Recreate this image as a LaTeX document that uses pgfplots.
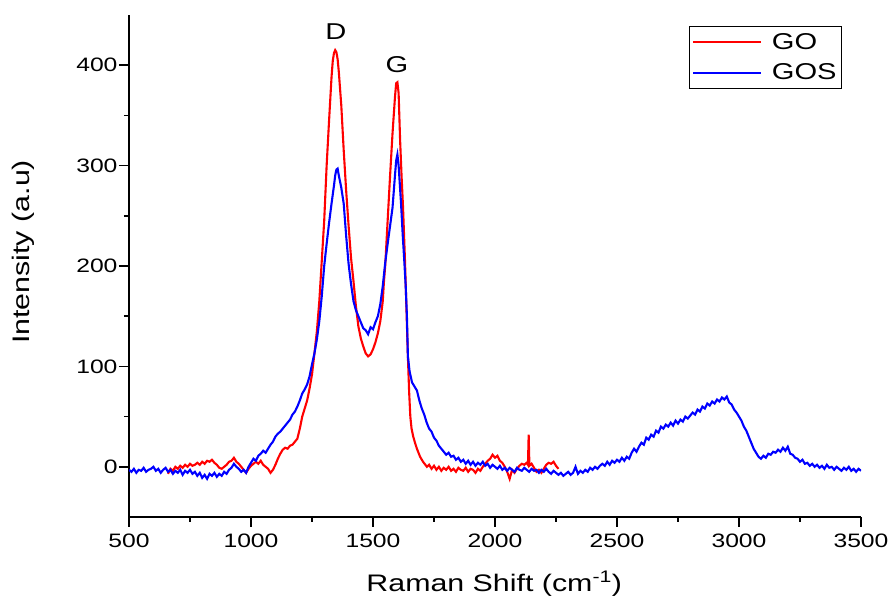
\documentclass[border=0pt]{standalone}
\usepackage{pgfplots}
\pgfplotsset{compat=1.18}
\usepackage{fontspec}
\setmainfont{Liberation Sans}[FakeStretch=1.27]
\begin{document}
\begin{tikzpicture}
\begin{axis}[
  scale only axis,
  width=732bp, height=502bp,
  xmin=500, xmax=3500, ymin=-50, ymax=450,
  axis x line*=bottom, axis y line*=left,
  axis line style={line width=1.6bp, -},
  xtick={500,1000,...,3500}, ytick={0,100,...,400},
  minor x tick num=1, minor y tick num=1,
  tick align=outside,
  major tick length=10bp, minor tick length=5bp,
  every tick/.style={black, line width=1.6bp},
  /pgf/number format/assume math mode=true,
  /pgf/number format/1000 sep={},
  tick label style={font=\fontsize{19.5}{23}\selectfont},
  xticklabel style={yshift=-3bp},
  yticklabel style={xshift=2bp},
  xlabel={Raman Shift (cm\textsuperscript{-1})},
  ylabel={Intensity (a.u)},
  every axis x label/.style={at={(axis description cs:0.499,-0.149)}, anchor=base, font=\fontsize{24}{28}\selectfont},
  every axis y label/.style={at={(axis description cs:-0.1366,0.528)}, anchor=base, rotate=90, font=\fontsize{24}{28}\selectfont},
  legend style={at={(axis description cs:0.974,0.978)}, anchor=north east,
    draw=black, line width=0.8bp, font=\fontsize{23}{26}\selectfont,
    inner xsep=3bp, inner ysep=5bp, row sep=9bp,
    /tikz/every odd column/.append style={column sep=8bp}},
  legend cell align=left,
]
\addplot[red, line width=2.1bp, legend image code/.code={\draw[red, line width=1.8bp] (0bp,0bp) -- (68bp,0bp);}] coordinates {
(660,-7)(670,-2)(680,-4)(690,0)(700,-2)(710,1)(720,-1)(730,2)(740,0)(750,3)(760,1)(770,2)(780,4)(790,2)(800,5)(810,3)(820,6)(830,5)(840,7)(850,4)(860,2)(870,-1)(880,-2)(890,0)(900,2)(910,5)(920,6)(930,9)(940,5)(950,3)(960,0)(970,-3)(980,-6)(990,-2)(1000,1)(1010,3)(1020,5)(1030,3)(1040,6)(1050,2)(1060,0)(1070,-2)(1080,-6)(1090,-3)(1100,2)(1110,8)(1120,13)(1130,17)(1140,19)(1150,18)(1160,21)(1170,22)(1180,25)(1190,28)(1200,38)(1210,50)(1220,58)(1230,66)(1240,78)(1250,92)(1260,113)(1270,135)(1280,165)(1290,205)(1300,245)(1310,300)(1320,345)(1330,388)(1335,404)(1340,412)(1345,415)(1350,413)(1355,406)(1360,393)(1370,360)(1380,315)(1390,275)(1400,240)(1410,208)(1420,185)(1430,160)(1440,140)(1450,128)(1460,120)(1470,113)(1480,110)(1490,112)(1500,117)(1510,124)(1520,133)(1530,145)(1540,165)(1545,185)(1550,200)(1560,245)(1570,290)(1580,332)(1590,368)(1595,382)(1600,383)(1605,372)(1611,326)(1617,290)(1623,259)(1631,206)(1638,150)(1643,110)(1648,75)(1653,50)(1658,38)(1665,30)(1672,24)(1680,18)(1693,10)(1705,5)(1721,0)(1730,2)(1740,-2)(1750,1)(1760,-3)(1770,0)(1780,-4)(1790,-1)(1800,-3)(1810,0)(1820,-4)(1830,-2)(1840,-5)(1850,-1)(1860,-3)(1870,-4)(1880,-1)(1890,-5)(1900,-2)(1910,-3)(1920,-6)(1930,-2)(1940,-4)(1950,0)(1960,3)(1970,6)(1980,8)(1990,12)(2000,9)(2010,11)(2020,6)(2030,4)(2040,0)(2050,-5)(2060,-12)(2070,-3)(2080,-6)(2090,-2)(2100,1)(2110,3)(2120,2)(2130,4)(2135,2)(2138,32)(2141,1)(2150,3)(2160,-1)(2170,-5)(2180,-3)(2190,-6)(2200,-2)(2210,2)(2220,4)(2230,3)(2240,5)(2250,1)(2260,-2)
};
\addlegendentry{GO}
\addplot[blue, line width=2.1bp, legend image code/.code={\draw[blue, line width=1.8bp] (0bp,0bp) -- (68bp,0bp);}] coordinates {
(500,-3)(510,-5)(520,-2)(530,-6)(540,-3)(550,-4)(560,-1)(570,-5)(580,-3)(590,-2)(600,0)(610,-4)(620,-2)(630,-6)(640,-3)(650,-1)(660,-5)(670,-3)(680,-7)(690,-4)(700,-6)(710,-3)(720,-8)(730,-4)(740,-6)(750,-3)(760,-7)(770,-5)(780,-9)(790,-6)(800,-11)(810,-8)(820,-12)(830,-7)(840,-9)(850,-6)(860,-10)(870,-7)(880,-9)(890,-5)(900,-7)(910,-3)(920,-1)(930,3)(940,0)(950,-2)(960,-5)(970,-3)(980,-6)(990,0)(1000,4)(1010,8)(1020,6)(1030,11)(1040,13)(1050,16)(1060,14)(1070,18)(1080,22)(1090,25)
(1100,30)(1110,33)(1120,35)(1130,38)(1140,41)(1150,44)(1160,47)(1170,52)(1180,55)(1190,60)(1200,66)(1210,73)(1220,77)(1230,82)(1240,90)(1250,102)(1260,113)(1270,127)(1280,145)(1290,170)(1300,200)(1310,222)(1320,243)(1330,262)(1340,280)(1345,290)(1350,296)(1355,297)(1360,290)(1370,278)(1380,262)(1390,230)(1400,202)(1410,182)(1420,165)(1430,156)(1440,150)(1450,144)(1460,138)(1470,136)(1480,132)(1490,139)(1500,137)(1510,144)(1520,150)(1530,162)(1540,180)(1550,203)(1560,222)(1570,240)(1580,258)(1590,290)(1595,305)(1600,311)(1605,300)(1615,262)(1622,230)(1628,206)(1634,180)(1639,150)(1643,110)(1650,95)(1660,84)(1670,80)(1680,76)(1690,66)(1700,58)(1710,52)(1720,44)(1730,38)
(1740,35)(1750,29)(1760,26)(1770,21)(1780,18)(1790,15)(1800,12)(1810,14)(1820,10)(1830,11)(1840,7)(1850,9)(1860,5)(1870,7)(1880,3)(1890,6)(1900,2)(1910,5)(1920,1)(1930,4)(1940,2)(1950,5)(1960,1)(1970,3)(1980,-1)(1990,2)(2000,0)(2010,-2)(2020,1)(2030,-3)(2040,-1)(2050,-4)(2060,-1)(2070,-3)(2080,-5)(2090,-1)(2100,-3)(2110,-4)(2120,-1)(2130,-3)(2140,-5)(2150,-2)(2160,-4)(2170,-3)(2180,-6)(2190,-3)(2200,-5)(2210,-2)(2220,-5)(2230,-7)(2240,-4)(2250,-6)(2260,-8)(2270,-6)(2280,-9)(2290,-7)(2300,-5)(2310,-8)(2320,-6)(2330,0)(2340,-7)(2350,-4)(2360,-6)(2370,-3)(2380,-5)(2390,-1)(2400,-3)(2410,0)(2420,-2)(2430,1)(2440,3)(2450,1)(2460,5)(2470,2)(2480,6)(2490,4)(2500,7)(2510,5)(2520,9)(2530,6)(2540,10)(2550,8)(2560,14)(2570,18)(2580,15)(2590,20)(2600,24)(2610,22)(2620,29)(2630,27)(2640,32)(2650,30)(2660,36)(2670,34)(2680,40)(2690,38)(2700,42)(2710,40)(2720,44)(2730,41)(2740,46)(2750,43)(2760,47)(2770,45)(2780,50)(2790,48)(2800,51)(2810,54)(2820,52)(2830,57)(2840,55)(2850,60)(2860,58)(2870,63)(2880,61)(2890,65)(2900,63)(2910,67)(2920,65)(2930,69)(2940,67)(2950,70)(2960,64)(2970,62)(2980,57)(2990,54)(3000,50)(3010,46)(3020,40)(3030,36)(3040,30)(3050,24)(3060,18)(3070,14)(3080,10)(3090,8)(3100,11)(3110,9)(3120,13)(3130,12)(3140,15)(3150,14)(3160,17)(3170,15)(3180,19)(3190,16)(3200,20)(3210,13)(3220,12)(3230,9)(3240,8)(3250,5)(3260,7)(3270,3)(3280,4)(3290,1)(3300,3)(3310,0)(3320,2)(3330,-1)(3340,1)(3350,-2)(3360,2)(3370,-1)(3380,0)(3390,-3)(3400,0)(3410,-2)(3420,-4)(3430,-1)(3440,-3)(3450,0)(3460,-4)(3470,-2)(3480,-5)(3490,-2)(3500,-4)
};
\addlegendentry{GOS}
\node[anchor=base, font=\fontsize{23}{26}\selectfont] at (axis cs:1348,426) {D};
\node[anchor=base, font=\fontsize{23}{26}\selectfont] at (axis cs:1598,393) {G};
\end{axis}
\path ([xshift=-129bp,yshift=-83bp]current axis.south west) rectangle ([xshift=31bp,yshift=15bp]current axis.north east);
\end{tikzpicture}
\end{document}
